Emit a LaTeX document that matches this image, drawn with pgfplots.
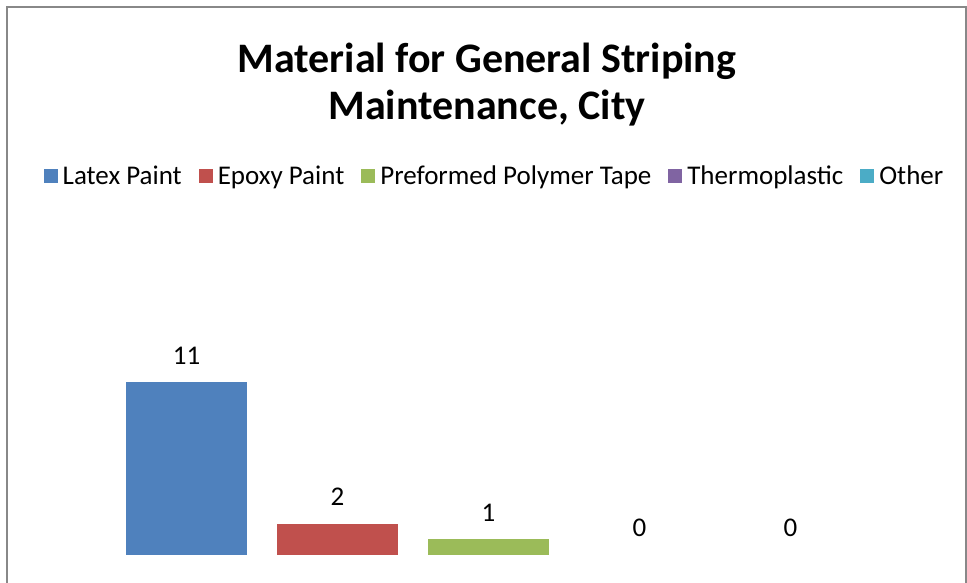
\documentclass[border=0pt]{standalone}
\usepackage{fontspec}
\setmainfont{Carlito}
\usepackage{pgfplots}
\pgfplotsset{compat=1.18}
\definecolor{xblue}{HTML}{4F81BD}
\definecolor{xred}{HTML}{C0504D}
\definecolor{xgreen}{HTML}{9BBB59}
\definecolor{xpurple}{HTML}{8064A2}
\definecolor{xaqua}{HTML}{4BACC6}
\definecolor{frame}{HTML}{888888}
\begin{document}
\begin{tikzpicture}[x=1bp,y=1bp]
\useasboundingbox (0,0) rectangle (967,583);
\draw[frame, line width=2bp] (7,-5) -- (7,576) -- (965.5,576) -- (965.5,-5);
\node[font=\fontsize{42bp}{47bp}\selectfont\bfseries, align=center, inner sep=0pt, anchor=base] at (487,463) {Material for General Striping\\Maintenance, City};
\begin{axis}[
  at={(35.5bp,28bp)}, anchor=south west,
  scale only axis, width=906bp, height=219.8bp,
  xmin=-1, xmax=5, ymin=0, ymax=14,
  axis lines=none, clip=false,
  ybar, bar width=121bp,
  /pgf/bar shift=0pt,
  nodes near coords,
  /pgf/number format/assume math mode=true,
  every node near coord/.append style={font=\fontsize{27bp}{32bp}\selectfont, inner sep=0pt, anchor=south, yshift=18bp, text=black},
  legend columns=-1,
  legend style={at={(0.5066,1.724)}, anchor=center, draw=none, fill=none,
    font=\fontsize{27bp}{32bp}\selectfont,
    /tikz/every odd column/.append style={column sep=3bp},
    /tikz/every even column/.append style={column sep=15bp}},
  legend image code/.code={\fill[#1] (0bp,-7bp) rectangle (14bp,7bp);},
]
\addplot[fill=xblue, draw=none] coordinates {(0,11)};
\addplot[fill=xred, draw=none] coordinates {(1,2)};
\addplot[fill=xgreen, draw=none] coordinates {(2,1)};
\addplot[fill=none, draw=none, legend image code/.code={\fill[xpurple] (0bp,-7bp) rectangle (14bp,7bp);}] coordinates {(3,0)};
\addplot[fill=none, draw=none, legend image code/.code={\fill[xaqua] (0bp,-7bp) rectangle (14bp,7bp);}] coordinates {(4,0)};
\legend{Latex Paint, Epoxy Paint, Preformed Polymer Tape, Thermoplastic, Other}
\end{axis}
\end{tikzpicture}
\end{document}
